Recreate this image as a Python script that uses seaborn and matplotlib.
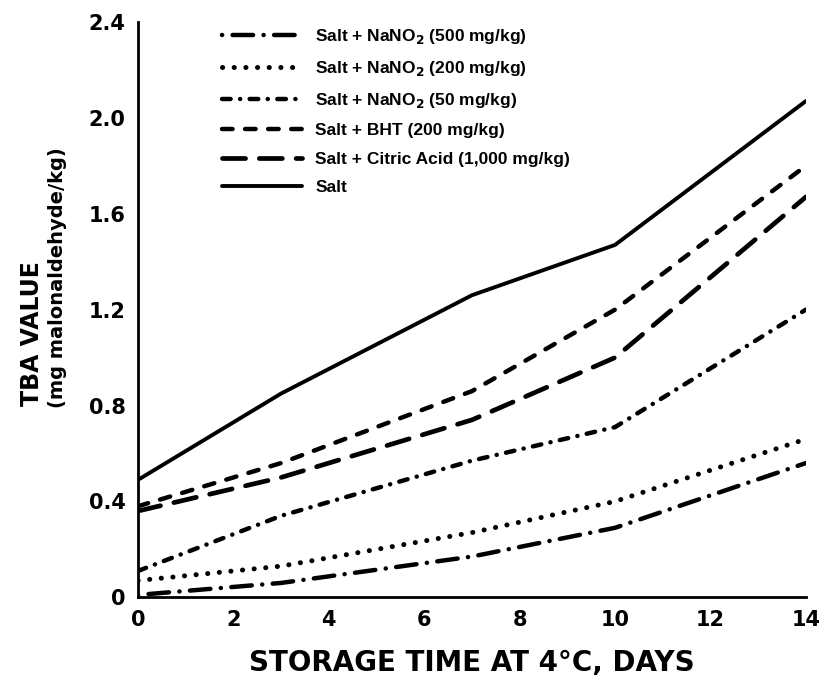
import matplotlib
matplotlib.use("Agg")
import matplotlib.pyplot as plt
import seaborn as sns

# data
days = [0, 3, 7, 10, 14]
nano2_500 = [0.01, 0.06, 0.17, 0.29, 0.56]
nano2_200 = [0.07, 0.13, 0.27, 0.40, 0.66]
nano2_50 = [0.11, 0.34, 0.57, 0.71, 1.20]
bht_200 = [0.38, 0.56, 0.86, 1.20, 1.80]
citric_1000 = [0.36, 0.50, 0.74, 1.00, 1.67]
salt_only = [0.49, 0.85, 1.26, 1.47, 2.07]

labels = [
    r"Salt + NaNO$_2$ (500 mg/kg)",
    r"Salt + NaNO$_2$ (200 mg/kg)",
    r"Salt + NaNO$_2$ (50 mg/kg)",
    "Salt + BHT (200 mg/kg)",
    "Salt + Citric Acid (1,000 mg/kg)",
    "Salt",
]
series = [nano2_500, nano2_200, nano2_50, bht_200, citric_1000, salt_only]
# dash patterns in points (round caps add one line width to each dash)
styles = [
    (0, (0.1, 7.5, 14.8, 7.5)),
    (0, (0.1, 8.3)),
    (0, (6.2, 6.8, 0.1, 6.8)),
    (0, (7.6, 9.0)),
    (0, (16.6, 9.9)),
    "-",
]
widths = [3.2, 3.6, 3.2, 3.2, 3.4, 2.8]

sns.set_style("white")
plt.rcParams["font.family"] = ["DejaVu Sans"]
plt.rcParams["font.weight"] = "bold"
plt.rcParams["text.color"] = "black"
plt.rcParams["mathtext.default"] = "bf"
plt.rcParams["lines.scale_dashes"] = False

fig = plt.figure(figsize=(8.19, 6.85), dpi=100)
ax = fig.add_axes([0.1685, 0.128, 0.8155, 0.84])

for vals, lab, ls, lw in zip(series, labels, styles, widths):
    sns.lineplot(x=days, y=vals, ax=ax, color="black", linestyle=ls, linewidth=lw,
                 dash_capstyle="round", solid_capstyle="round", label=lab)

ax.set_xlim(0, 14)
ax.set_ylim(0, 2.4)
ax.set_xticks(range(0, 15, 2))
ax.set_yticks([0, 0.4, 0.8, 1.2, 1.6, 2.0, 2.4])
ax.set_yticklabels(["0", "0.4", "0.8", "1.2", "1.6", "2.0", "2.4"])
ax.tick_params(direction="in", length=11, width=1.6, labelsize=15, pad=9, colors="black")
for lab in ax.get_xticklabels() + ax.get_yticklabels():
    lab.set_fontweight("bold")
for s in ["top", "right"]:
    ax.spines[s].set_visible(False)
for s in ["left", "bottom"]:
    ax.spines[s].set_color("black")
    ax.spines[s].set_linewidth(2)

ax.set_xlabel("")
ax.set_ylabel("")
fig.text(0.576, 0.032, "STORAGE TIME AT 4°C, DAYS", ha="center", va="center",
         fontsize=20, fontweight="bold", color="black")
fig.text(0.039, 0.407, "TBA VALUE", rotation=90, ha="center", va="bottom",
         fontsize=17, fontweight="bold", color="black")
fig.text(0.07, 0.405, "(mg malonaldehyde/kg)", rotation=90, ha="center", va="bottom",
         fontsize=14, fontweight="bold", color="black")

leg = ax.legend(loc="upper left", bbox_to_anchor=(0.103, 1.018), frameon=False,
                handlelength=4.6, handletextpad=0.75, labelspacing=0.75,
                prop={"family": "Liberation Sans", "weight": "bold", "size": 12.5})
for t in leg.get_texts():
    t.set_color("black")

fig.savefig("out.png", dpi=100)
